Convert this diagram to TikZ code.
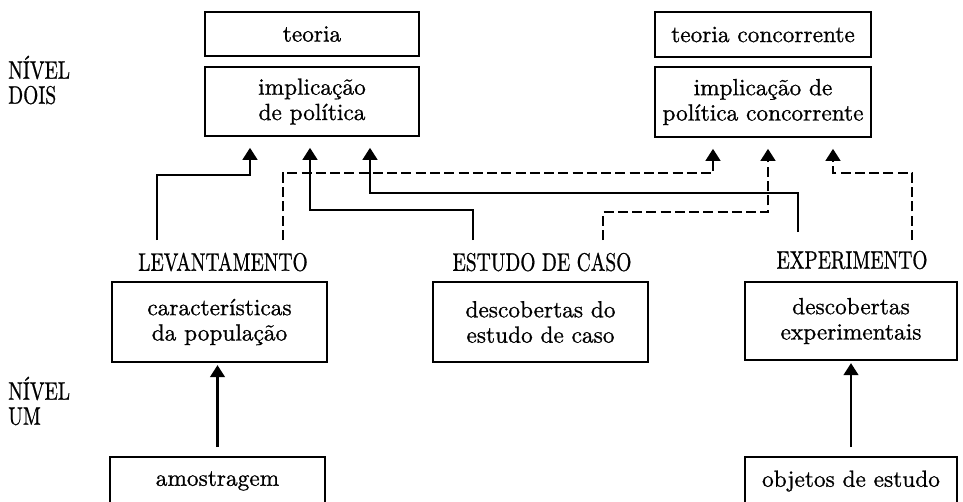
\documentclass[tikz,border=0pt]{standalone}
\usepackage{fontspec}
\setmainfont{lmroman10-regular.otf}[FakeBold=0.9]
\usepackage{graphicx}
\usetikzlibrary{arrows.meta}
\newcommand{\bxfont}{\fontsize{17.5}{19}\selectfont}
\newcommand{\lbfont}{\fontsize{19}{18.75}\selectfont}
\newcommand{\cnd}[1]{\scalebox{0.77}[1]{#1}}
\tikzset{
  box/.style 2 args={draw, line width=1.7pt, inner sep=0pt,
    minimum width=#1*0.75pt, minimum height=#2*0.75pt,
    align=center, font=\bxfont},
  lab/.style={inner sep=0pt, font=\lbfont},
  conn/.style={line width=1.7pt, shorten >=8pt,
    -{Triangle[length=9pt,width=11pt]}},
  solidc/.style={conn},
  dashc/.style={conn, dash pattern=on 7.5pt off 3.2pt}
}
\begin{document}
\begin{tikzpicture}[x=0.75pt,y=-0.75pt]
\clip (0,0) rectangle (963,501);
% level two boxes
\node[box={214}{44}] (teo) at (312,34) {teoria};
\node[box={214}{69}] (impl) at (312,101.5) {implicação\\de política};
\node[box={216}{45}] (teoc) at (763,34.5) {teoria concorrente};
\node[box={216}{70}] (implc) at (763,102) {implicação de\\política concorrente};
% level one boxes
\node[box={215}{80}] (car) at (219.5,322) {características\\da população};
\node[box={215}{80}] (desc) at (540.5,322) {descobertas do\\estudo de caso};
\node[box={212}{78}] (dexp) at (851,321) {descobertas\\experimentais};
\node[box={215}{48}] (amo) at (217.5,481) {amostragem};
\node[box={212}{48}] (obj) at (851,481) {objetos de estudo};
% labels
\node[lab] (lev) at (223,262) {\cnd{LEVANTAMENTO}};
\node[lab] (est) at (542,262) {\cnd{ESTUDO DE CASO}};
\node[lab] (exp) at (852,260) {\cnd{EXPERIMENTO}};
\node[lab, anchor=west, align=left] (n2) at (8,80) {\cnd{NÍVEL}\\\cnd{DOIS}};
\node[lab, anchor=west, align=left] (n1) at (8,401) {\cnd{NÍVEL}\\\cnd{UM}};
% connector points
\coordinate (s1) at (157,240); \coordinate (b1) at (250,175);
\coordinate (s2) at (283,240); \coordinate (b2) at (713,173);
\coordinate (s3) at (473,240); \coordinate (b3) at (310,210);
\coordinate (s4) at (603,240); \coordinate (b4) at (768,212);
\coordinate (s5) at (798,232); \coordinate (b5) at (370,193);
\coordinate (s6) at (912,240); \coordinate (b6) at (833,173);
% connectors
\draw[solidc] (s1) |- (b1) -- (impl.south -| b1);
\draw[dashc] (s2) |- (b2) -- (implc.south -| b2);
\draw[solidc] (s3) |- (b3) -- (impl.south -| b3);
\draw[dashc] (s4) |- (b4) -- (implc.south -| b4);
\draw[solidc] (s5) |- (b5) -- (impl.south -| b5);
\draw[dashc] (s6) |- (b6) -- (implc.south -| b6);
\draw[solidc, shorten <=6.5pt, shorten >=1.5pt] (amo.north) -- (car.south -| amo.north);
\draw[solidc, shorten <=6.5pt, shorten >=1.5pt] (obj.north) -- (dexp.south -| obj.north);
\end{tikzpicture}
\end{document}
